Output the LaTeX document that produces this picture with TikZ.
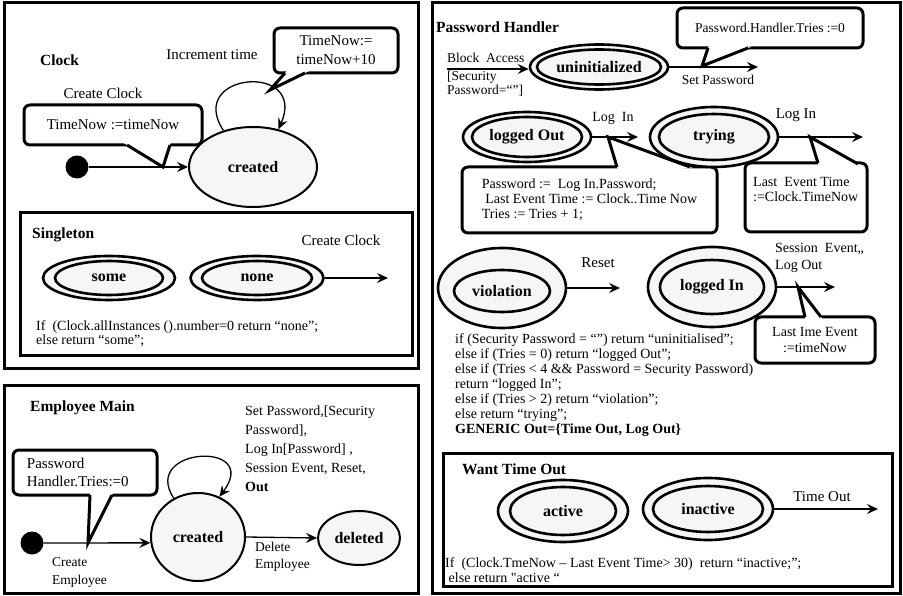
\documentclass[tikz,border=0pt]{standalone}
\usepackage{fontspec}
\setmainfont{Liberation Serif}
\usetikzlibrary{shapes.geometric,arrows.meta,calc}
\newcommand\straightdq{\XeTeXglyph\numexpr\XeTeXcharglyph"22\relax}
\tikzset{
  fbox/.style={draw, line width=3pt},
  st/.style={ellipse, draw, line width=2pt, fill=gray!7, inner sep=0pt, font=\fontsize{16}{18}\selectfont\bfseries},
  stout/.style={ellipse, draw, line width=2.6pt, fill=gray!7, inner sep=0pt},
  stin/.style={st, line width=2.6pt},
  arr/.style={-{Stealth[length=11pt,width=10pt,inset=4pt]}, line width=1.3pt},
  cbox/.style={draw, line width=3pt, rounded corners=6pt, fill=white, inner sep=0pt},
  lbl/.style={font=\fontsize{15}{18}\selectfont, inner sep=0pt},
  sm/.style={font=\fontsize{14}{15}\selectfont, inner sep=0pt, align=left},
  ttl/.style={font=\fontsize{15.5}{17}\selectfont\bfseries, inner sep=0pt, anchor=west},
  dot/.style={circle, fill=black, minimum size=23pt, inner sep=0pt},
  ptr/.style={line width=3pt, line join=miter, miter limit=6},
}
\newcommand\cptr[3]{%
  \fill[white] ($(#1)!-4pt!(#2)$) -- (#2) -- ($(#3)!-4pt!(#2)$) -- cycle;
  \draw[ptr] (#1) -- (#2) -- (#3);}
\begin{document}
\begin{tikzpicture}[x=1pt,y=-1pt]
\useasboundingbox (0,0) rectangle (903,596);
% ---------- panels
\draw[fbox] (4,3) rectangle (418,368);
\draw[fbox] (20,213) rectangle (412,355);
\draw[fbox] (4,385) rectangle (418,593);
\draw[fbox] (432,3) rectangle (900,593);
\draw[fbox] (443,453) rectangle (892,586);

% ---------- Clock
\node[ttl] (tClock) at (40,60) {Clock};
\node[lbl] (lInc) at (212,55) {Increment time};
\node[lbl] (lCC) at (103,93) {Create Clock};
\node[cbox, lbl, font=\fontsize{15}{19}\selectfont, minimum width=124pt, minimum height=45pt, align=center] (cA) at (336,50.5) {TimeNow:=\\timeNow+10};
\coordinate (pA1) at (285,73); \coordinate (pAt) at (270,90); \coordinate (pA2) at (305,73);
\cptr{pA1}{pAt}{pA2}
\node[cbox, lbl, minimum width=178pt, minimum height=40pt] (cB) at (113,125) {TimeNow :=timeNow};
\coordinate (pB1) at (127,145); \coordinate (pBt) at (163,167); \coordinate (pB2) at (170,145);
\cptr{pB1}{pBt}{pB2}
\node[st, minimum width=128pt, minimum height=80pt] (cCr) at (253,167) {created};
\node[dot] (dC) at (77,167) {};
\draw[arr] (dC) -- (cCr.west);
\draw[arr] (cCr.129) .. controls (185,72) and (308,62) .. (cCr.56);

% ---------- Singleton
\node[ttl] (tS) at (32,235) {Singleton};
\node[lbl] (lCC2) at (341,240) {Create Clock};
\node[stout, minimum width=132pt, minimum height=44pt] (sSo) at (109,278) {};
\node[stin, minimum width=108pt, minimum height=34pt] (sSi) at (109,278) {some};
\node[stout, minimum width=133pt, minimum height=44pt] (sNo) at (257,278) {};
\node[stin, minimum width=110pt, minimum height=34pt] (sNi) at (257,278) {none};
\coordinate (eN) at (388,278);
\draw[arr] (sNo.east) -- (eN);
\node[sm, anchor=north west, font=\fontsize{14}{14}\selectfont] (tSg) at (36,320) {If~ (Clock.allInstances ().number=0 return “none”;\\else return “some”;};

% ---------- Employee Main
\node[ttl] (tE) at (30,408) {Employee Main};
\node[sm, anchor=north west, font=\fontsize{14}{19}\selectfont] (tEv) at (245,406) {Set Password,[Security\\Password],\\Log In[Password] ,\\Session Event, Reset,\\\textbf{Out}};
\node[cbox, lbl, minimum width=144pt, minimum height=45pt, text width=116pt, align=left] (cE) at (85,472.5) {Password\\Handler.Tries:=0};
\coordinate (pE1) at (90,495); \coordinate (pEt) at (88,543); \coordinate (pE2) at (112,495);
\cptr{pE1}{pEt}{pE2}
\node[st, minimum width=94pt, minimum height=88pt] (eC) at (198,537) {created};
\node[st, minimum width=82pt, minimum height=54pt] (eD) at (359,538) {deleted};
\node[dot] (dE) at (32,543) {};
\draw[arr] (dE) -- (eC.187);
\draw[arr] (eC.east) -- (eD.west);
\draw[arr] (eC.122) .. controls (140,447) and (262,440) .. (eC.62);
\node[sm, anchor=north west, font=\fontsize{13.5}{18}\selectfont] (tCE) at (52,557) {Create\\Employee};
\node[sm, anchor=north west, font=\fontsize{13.5}{17}\selectfont] (tDE) at (255,542) {Delete\\Employee};

% ---------- Password Handler
\node[ttl] (tPH) at (436,27) {Password Handler};
\node[sm, anchor=north west, font=\fontsize{13.5}{14}\selectfont] (tBA) at (447,53) {Block~ Access\\[4pt]{}[Security\\Password=“”]};
\node[lbl, font=\fontsize{13.5}{15}\selectfont] (lSP) at (718,80) {Set Password};
\node[cbox, font=\fontsize{13.5}{15}\selectfont, minimum width=186pt, minimum height=40pt] (cP1) at (770,28) {Password.Handler.Tries :=0};
\node[stout, minimum width=138pt, minimum height=45pt] (uO) at (599,67) {};
\node[stin, minimum width=124pt, minimum height=35pt] (uI) at (599,67) {uninitialized};
\coordinate (baS) at (447,69);
\draw[arr] (baS) -- (baS -| uO.west);
\coordinate (spE) at (758,67);
\draw[arr] (uO.east) -- (spE);
\coordinate (pP1a) at (708,48); \coordinate (pP1t) at (702,66); \coordinate (pP1b) at (748,48);
\cptr{pP1a}{pP1t}{pP1b}

\node[cbox, sm, minimum width=255pt, minimum height=66pt] (cP2) at (589.5,200) {Password :=~ Log In.Password;\\~Last Event Time := Clock..Time Now\\Tries := Tries + 1;};
\node[cbox, minimum width=122pt, minimum height=69pt] (cP3) at (806,197.5) {};
\node[sm, anchor=north west] (tP3) at (753,177) {Last~ Event Time\\:=Clock.TimeNow};

\node[stout, minimum width=128pt, minimum height=50pt] (loO) at (527,137) {};
\node[stin, minimum width=110pt, minimum height=40pt] (loI) at (527,137) {logged Out};
\coordinate (liE) at (638,137);
\draw[arr] (loO.east) -- (liE);
\node[lbl, font=\fontsize{14}{16}\selectfont] (lLI1) at (613,118) {Log~ In};
\coordinate (pP2a) at (617,167); \coordinate (pP2t) at (608,137); \coordinate (pP2b) at (690,167);
\cptr{pP2a}{pP2t}{pP2b}

\node[stout, minimum width=128pt, minimum height=60pt] (trO) at (714,137) {};
\node[stin, minimum width=110pt, minimum height=46pt] (trI) at (714,137) {trying};
\coordinate (trE) at (863,137);
\draw[arr] (trO.east) -- (trE);
\node[lbl] (lLI2) at (796,115) {Log In};
\coordinate (pP3a) at (818,163); \coordinate (pP3t) at (810,137); \coordinate (pP3b) at (858,164);
\cptr{pP3a}{pP3t}{pP3b}

\node[stout, minimum width=128pt, minimum height=80pt] (viO) at (502,288) {};
\node[stin, minimum width=96pt, minimum height=42pt] (viI) at (502,291) {violation};
\coordinate (rsE) at (620,288);
\draw[arr] (viO.east) -- (rsE);
\node[lbl] (lRs) at (598,263) {Reset};

\node[stout, minimum width=128pt, minimum height=80pt] (lgO) at (712,287) {};
\node[stin, minimum width=104pt, minimum height=54pt] (lgI) at (712,287) {logged In};
\coordinate (seE) at (835,287);
\draw[arr] (lgO.east) -- (seE);
\node[sm, anchor=north west, font=\fontsize{14}{17}\selectfont] (lSE) at (775,243) {Session~ Event,,\\Log Out};
\node[cbox, sm, align=center, font=\fontsize{14}{16}\selectfont, minimum width=120pt, minimum height=46pt] (cP4) at (815,340) {Last Ime Event\\:=timeNow};
\coordinate (pP4a) at (805,317); \coordinate (pP4t) at (798,287); \coordinate (pP4b) at (821,317);
\cptr{pP4a}{pP4t}{pP4b}

\node[sm, anchor=north west] (tRule) at (455,333) {if (Security Password = “”) return “uninitialised”;\\else if (Tries = 0) return “logged Out”;\\else if (Tries < 4 \&\& Password = Security Password)\\return “logged In”;\\else if (Tries > 2) return “violation”;\\else return “trying”;\\\textbf{GENERIC Out=\{Time Out, Log Out\}}};

% ---------- Want Time Out
\node[ttl] (tW) at (462,469) {Want Time Out};
\node[stout, minimum width=130pt, minimum height=62pt] (acO) at (563,511) {};
\node[stin, minimum width=106pt, minimum height=48pt] (acI) at (563,511) {active};
\node[stout, minimum width=130pt, minimum height=62pt] (inO) at (708,509) {};
\node[stin, minimum width=110pt, minimum height=46pt] (inI) at (708,509) {inactive};
\coordinate (toE) at (878,509);
\draw[arr] (inO.east) -- (toE);
\node[lbl] (lTO) at (822,497) {Time Out};
\node[sm, anchor=north west] (tWt) at (445,557) {If~ (Clock.TmeNow – Last Event Time> 30)~ return “inactive;”;\\~else return \straightdq active “};
\end{tikzpicture}
\end{document}
